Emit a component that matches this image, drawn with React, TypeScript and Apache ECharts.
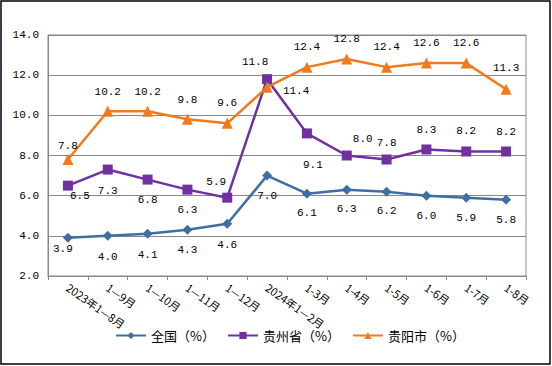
import React, { useEffect, useRef } from "react";
import * as echarts from "echarts";

const categories = [
  "2023年1—8月", "1—9月", "1—10月", "1—11月", "1—12月", "2024年1—2月",
  "1-3月", "1-4月", "1-5月", "1-6月", "1-7月", "1-8月",
];
const seriesNames = ["全国（%）", "贵州省（%）", "贵阳市（%）"];
const national = [3.9, 4.0, 4.1, 4.3, 4.6, 7.0, 6.1, 6.3, 6.2, 6.0, 5.9, 5.8];
const guizhou = [6.5, 7.3, 6.8, 6.3, 5.9, 11.8, 9.1, 8.0, 7.8, 8.3, 8.2, 8.2];
const guiyang = [7.8, 10.2, 10.2, 9.8, 9.6, 11.4, 12.4, 12.8, 12.4, 12.6, 12.6, 11.3];
const yTicks = { min: 2, max: 14, interval: 2 };

// label offsets (style only)
const nationalOff = [[-5, 11], [0, 21], [0, 21], [0, 20], [0, 21], [0, 20], [0, 19], [0, 19], [0, 19], [0, 20], [0, 20], [0, 20]];
const guizhouOff = [[12, 10], [0, 21], [0, 20], [0, 20], [-11, -16], [-12, -17], [6, 32], [16, -17], [0, -17], [0, -19], [0, -20], [0, -19]];
const guiyangOff = [[0, -14], [0, -19], [0, -19], [0, -19], [0, -20], [29, 4], [0, -20], [0, -20], [0, -20], [0, -20], [0, -20], [0, -21]];

const FONT = "'Liberation Mono', 'Noto Sans CJK SC', monospace";
const CJK = "'Noto Sans CJK SC', 'Liberation Mono', sans-serif";

function mk(name: string, vals: number[], offs: number[][], color: string, symbol: string, size: number) {
  return {
    name,
    type: "line",
    data: vals.map((v, i) => ({
      value: v,
      label: { offset: offs[i] },
    })),
    symbol,
    symbolSize: size,
    lineStyle: { color, width: 2.5 },
    itemStyle: { color },
    label: {
      show: true,
      position: "inside",
      color: "#000",
      fontFamily: FONT,
      fontSize: 11,
      formatter: (p: any) => Number(p.value).toFixed(1),
    },
  };
}

export default function App() {
  const ref = useRef<HTMLDivElement>(null);
  useEffect(() => {
    const chart = echarts.init(ref.current!, null, { renderer: "svg" });
    chart.setOption({
      animation: false,
      backgroundColor: "#fff",
      grid: { left: 48, right: 26, top: 35, bottom: 90, show: true, borderColor: "#888", borderWidth: 1 },
      graphic: [
        { type: "rect", shape: { x: 1, y: 1, width: 549, height: 363 }, style: { fill: "none", stroke: "#000", lineWidth: 1.5 }, z: 100 },
      ],
      legend: {
        left: 110,
        top: 324,
        itemWidth: 30,
        itemHeight: 9,
        itemGap: 12,
        textStyle: { fontFamily: CJK, fontSize: 13, color: "#000" },
        data: seriesNames,
      },
      xAxis: {
        type: "category",
        data: categories,
        boundaryGap: true,
        axisLine: { lineStyle: { color: "#888" } },
        axisTick: { show: true, length: 4, lineStyle: { color: "#888" } },
        axisLabel: { rotate: -35, interval: 0, margin: 10, fontFamily: CJK, fontSize: 11, color: "#000" },
      },
      yAxis: {
        type: "value",
        min: yTicks.min,
        max: yTicks.max,
        interval: yTicks.interval,
        axisLine: { show: true, lineStyle: { color: "#888" } },
        axisTick: { show: false },
        splitLine: { lineStyle: { color: "#888", width: 1 } },
        axisLabel: { margin: 9, fontFamily: FONT, fontSize: 11, color: "#000", formatter: (v: number) => v.toFixed(1) },
      },
      series: [
        mk(seriesNames[0], national, nationalOff, "#3E6EA4", "diamond", 10),
        mk(seriesNames[1], guizhou, guizhouOff, "#7030A0", "rect", 10),
        mk(seriesNames[2], guiyang, guiyangOff, "#F07A1C", "triangle", 11),
      ],
    });
    return () => chart.dispose();
  }, []);
  return <div ref={ref} style={{ position: "absolute", left: 0, top: 0, width: 552, height: 366 }} />;
}
